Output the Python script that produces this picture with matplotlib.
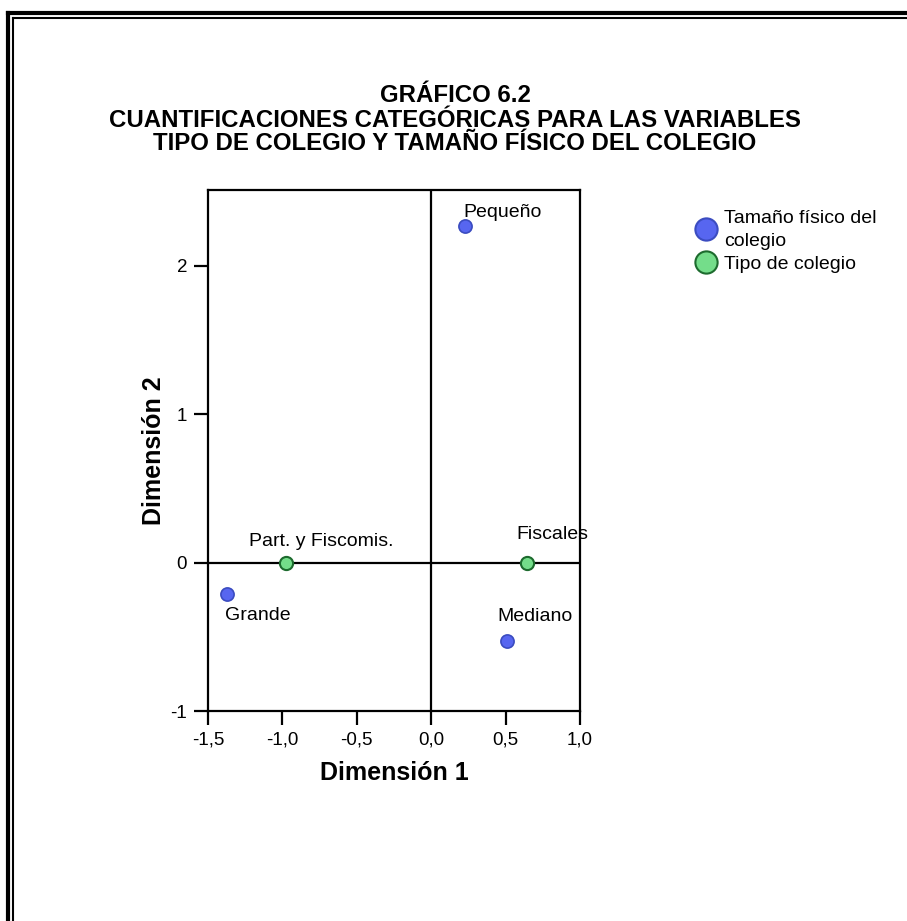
import matplotlib.pyplot as plt
from matplotlib.lines import Line2D

# category quantifications
tamano_labels = ['Pequeño', 'Grande', 'Mediano']
tamano_d1 = [0.23, -1.37, 0.51]
tamano_d2 = [2.27, -0.21, -0.53]

tipo_labels = ['Part. y Fiscomis.', 'Fiscales']
tipo_d1 = [-0.975, 0.645]
tipo_d2 = [0.0, 0.0]

x_ticks = [-1.5, -1.0, -0.5, 0.0, 0.5, 1.0]
y_ticks = [-1, 0, 1, 2]

blue_fill, blue_edge = '#5766f0', '#3b4cc0'
green_fill, green_edge = '#74dd8a', '#1d6b2e'

plt.rcParams['font.family'] = ['Liberation Sans', 'DejaVu Sans']

fig = plt.figure(figsize=(9.07, 9.21), dpi=100)
W, H = 907, 921

# double frame (only top and left visible)
fig.add_artist(Line2D([7.5 / W, 7.5 / W], [0, 1 - 13 / H], color='black', lw=3, transform=fig.transFigure))
fig.add_artist(Line2D([7.5 / W, 1], [1 - 13 / H, 1 - 13 / H], color='black', lw=3, transform=fig.transFigure))
fig.add_artist(Line2D([13 / W, 13 / W], [0, 1 - 18 / H], color='black', lw=1.5, transform=fig.transFigure))
fig.add_artist(Line2D([13 / W, 1], [1 - 18 / H, 1 - 18 / H], color='black', lw=1.5, transform=fig.transFigure))

title_lines = ['GRÁFICO 6.2',
               'CUANTIFICACIONES CATEGÓRICAS PARA LAS VARIABLES',
               'TIPO DE COLEGIO Y TAMAÑO FÍSICO DEL COLEGIO']
for line, ypix in zip(title_lines, [96, 120, 143]):
    fig.text(455 / W, 1 - ypix / H, line, ha='center', va='center', fontsize=17.3, fontweight='bold')

ax = fig.add_axes([208 / W, 1 - 711 / H, 372 / W, 521 / H])
ax.set_xlim(-1.5, 1.0)
ax.set_ylim(-1.0, 2.51)

ax.axhline(0, color='black', lw=1.6, zorder=1)
ax.axvline(0, color='black', lw=1.6, zorder=1)

ax.scatter(tamano_d1, tamano_d2, s=90, color=blue_fill, edgecolors=blue_edge, linewidths=1.2, zorder=3)
ax.scatter(tipo_d1, tipo_d2, s=90, color=green_fill, edgecolors=green_edge, linewidths=1.5, zorder=3)

# label offsets in points
offsets = {
    'Pequeño': (-1.5, 9.5, 'left'),
    'Grande': (-2, -16, 'left'),
    'Mediano': (-7, 18, 'left'),
    'Part. y Fiscomis.': (25, 15, 'center'),
    'Fiscales': (18, 20, 'center'),
}
for lab, x, y in zip(tamano_labels + tipo_labels, tamano_d1 + tipo_d1, tamano_d2 + tipo_d2):
    dx, dy, ha = offsets[lab]
    ax.annotate(lab, (x, y), xytext=(dx, dy), textcoords='offset points',
                ha=ha, va='center', fontsize=14, zorder=4)

ax.set_xticks(x_ticks)
ax.set_xticklabels([f'{t:.1f}'.replace('.', ',') for t in x_ticks])
ax.set_yticks(y_ticks)
ax.set_yticklabels([str(t) for t in y_ticks])
ax.tick_params(direction='out', length=10, width=1.6, labelsize=13.5, pad=5)
for sp in ax.spines.values():
    sp.set_linewidth(1.6)

ax.set_xlabel('Dimensión 1', fontsize=18, fontweight='bold', labelpad=9)
ax.set_ylabel('Dimensión 2', fontsize=18, fontweight='bold', labelpad=3)

handles = [
    Line2D([], [], ls='none', marker='o', markersize=16, markerfacecolor=blue_fill,
           markeredgecolor=blue_edge, markeredgewidth=1.5),
    Line2D([], [], ls='none', marker='o', markersize=16, markerfacecolor=green_fill,
           markeredgecolor=green_edge, markeredgewidth=1.5),
]
leg = fig.legend(handles, ['Tamaño físico del\ncolegio', 'Tipo de colegio'],
                 loc='upper left', bbox_to_anchor=(685 / W, 1 - 200 / H), frameon=False,
                 fontsize=14, handletextpad=0.3, labelspacing=0.3, borderpad=0, handlelength=1.2)
for t in leg.get_texts():
    t.set_linespacing(1.45)

fig.savefig('out.png', dpi=100)
